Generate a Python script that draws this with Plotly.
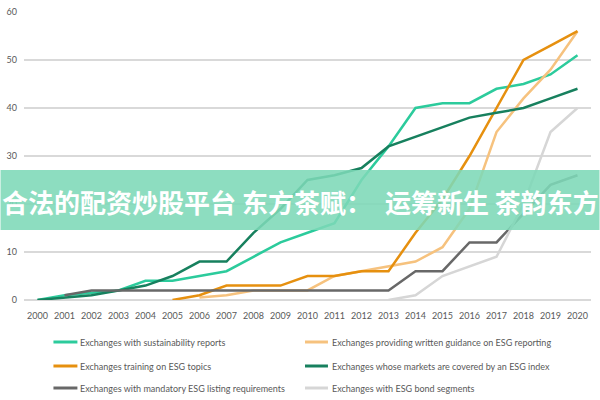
import plotly.graph_objects as go

years = [str(y) for y in range(2000, 2021)]

sustainability_reports = [0, 1, 1.5, 2, 4, 4, 5, 6, 9, 12, 14, 16, 25, 32, 40, 41, 41, 44, 45, 47, 51]
written_guidance = [None, None, None, None, None, None, 0.5, 1, 2, 2, 2, 5, 6, 7, 8, 11, 19, 35, 42, 48, 56]
training_esg = [None, None, None, None, None, 0, 1, 3, 3, 3, 5, 5, 6, 6, 14, 21, 30, 40, 50, 53, 56]
esg_index = [0, 0.5, 1, 2, 3, 5, 8, 8, 14, 19, 25, 26, 27.5, 32, 34, 36, 38, 39, 40, 42, 44]
mandatory_listing = [None, 1, 2, 2, 2, 2, 2, 2, 2, 2, 2, 2, 2, 2, 6, 6, 12, 12, 18, 24, 26]
bond_segments = [None, None, None, None, None, None, None, None, None, None, None, None, None, 0, 1, 5, 7, 9, 20, 35, 40]

series_names = [
    "Exchanges with sustainability reports",
    "Exchanges providing written guidance on ESG reporting",
    "Exchanges training on ESG topics",
    "Exchanges whose markets are covered by an ESG index",
    "Exchanges with mandatory ESG listing requirements",
    "Exchanges with ESG bond segments",
]
series_values = [sustainability_reports, written_guidance, training_esg,
                 esg_index, mandatory_listing, bond_segments]
series_colors = ["#2ccb9c", "#f6c27e", "#e6900f", "#17805e", "#686868", "#d6d6d6"]

y_ticks = [0, 10, 20, 30, 40, 50, 60]

banner_text = "合法的配资炒股平台 东方茶赋：　运筹新生 茶韵东方"

fig = go.Figure()
for name, vals, col in zip(series_names, series_values, series_colors):
    fig.add_trace(go.Scatter(x=years, y=vals, mode="lines", name=name,
                             line=dict(color=col, width=2.5), showlegend=False))

W, H = 600, 400
L, R, T, B = 23.5, 8.5, 12, 100
pw, ph = W - L - R, H - T - B


def px(x):
    return (x - L) / pw


def py(y):
    return (H - B - y) / ph


shapes = []
annotations = []

# manual legend
legend_rows = [342, 366, 388]
legend_cols = [(53, 77, 78), (305, 328, 330)]
for i, (name, col) in enumerate(zip(series_names, series_colors)):
    r, c = divmod(i, 2)
    x0, x1, xt = legend_cols[c]
    yy = legend_rows[r]
    shapes.append(dict(type="line", xref="paper", yref="paper",
                       x0=px(x0), x1=px(x1), y0=py(yy), y1=py(yy),
                       line=dict(color=col, width=3)))
    annotations.append(dict(text=name, xref="paper", yref="paper",
                            x=px(xt), y=py(yy), xanchor="left", yanchor="middle",
                            showarrow=False,
                            font=dict(family="Lato", size=9, color="#595959")))

# banner overlay
shapes.append(dict(type="rect", xref="paper", yref="paper", layer="above",
                   x0=px(0), x1=px(600), y0=py(230), y1=py(170),
                   fillcolor="rgba(125,216,183,0.88)", line=dict(width=0)))
annotations.append(dict(text="<b>" + banner_text + "</b>", xref="paper", yref="paper",
                        x=px(300), y=py(201), xanchor="center", yanchor="middle",
                        showarrow=False,
                        font=dict(family="Noto Sans CJK SC", size=26, color="white")))

fig.update_layout(
    width=W, height=H,
    margin=dict(l=L, r=R, t=T, b=B, pad=0, autoexpand=False),
    paper_bgcolor="white", plot_bgcolor="white",
    shapes=shapes, annotations=annotations,
    font=dict(family="Lato", color="#595959"),
    xaxis=dict(type="category", range=[-0.5, 20.5], showgrid=False, automargin=False,
               showline=False, zeroline=False, tickfont=dict(size=9, color="#595959"),
               ticks="", ticklabelstandoff=9),
    yaxis=dict(range=[0, 60], tickvals=y_ticks, showgrid=True, automargin=False,
               gridcolor="#d9d9d9", gridwidth=1.5, zeroline=True,
               zerolinecolor="#d9d9d9", zerolinewidth=1.5, showline=False,
               tickfont=dict(size=9, color="#595959"), ticks="", ticklabelstandoff=6),
)

fig.write_html("out.html", config={"displayModeBar": False},
               post_script="document.body.style.margin='0';document.body.style.overflow='hidden';")
